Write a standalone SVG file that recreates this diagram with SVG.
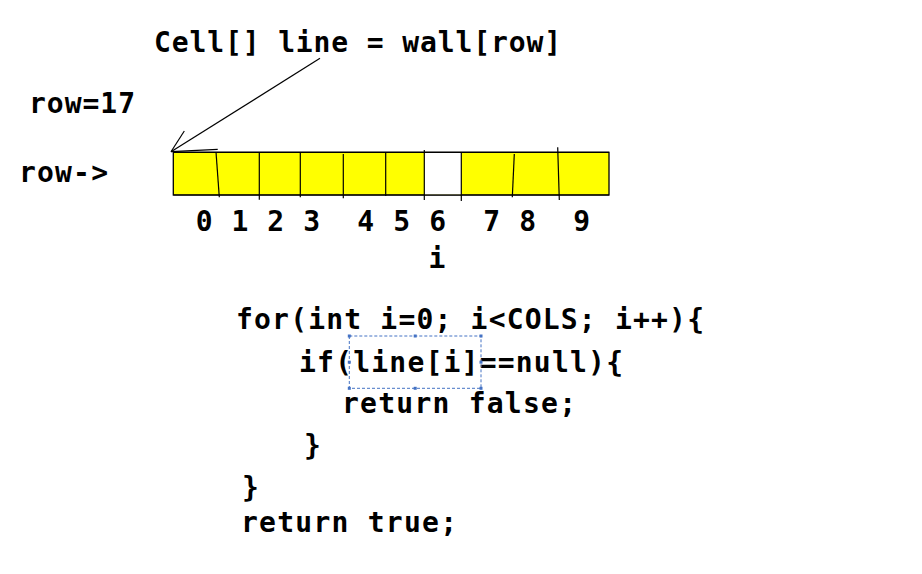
<svg xmlns="http://www.w3.org/2000/svg" width="922" height="574" viewBox="0 0 922 574">
<style>
.t{font-family:"DejaVu Sans Mono","Liberation Mono",monospace;font-weight:bold;font-size:28px;fill:#000}
.l{stroke:#000;stroke-width:1.2;fill:none}
.h{fill:#4472C4}
</style>
<rect width="922" height="574" fill="#fff"/>
<g id="title"><text class="t" x="154" y="52" textLength="407" lengthAdjust="spacing">Cell[] line = wall[row]</text></g>
<g id="rowval"><text class="t" x="29" y="113" textLength="106" lengthAdjust="spacing">row=17</text></g>
<g id="rowlabel"><text class="t" x="19" y="182" textLength="89" lengthAdjust="spacing">row-&gt;</text></g>
<g id="array">
<rect x="173.3" y="152.3" width="435.7" height="42.7" fill="#FFFF00" stroke="#000" stroke-width="1.3"/>
<rect x="424.3" y="152.8" width="37" height="41.7" fill="#fff"/>
<line class="l" x1="173.3" y1="152.3" x2="609" y2="152.3"/>
<line class="l" x1="173.3" y1="195" x2="609" y2="195"/>
<line class="l" x1="216" y1="152" x2="219.3" y2="197.3"/>
<line class="l" x1="259.3" y1="152" x2="259.3" y2="199.7"/>
<line class="l" x1="300.3" y1="152" x2="300.3" y2="197.3"/>
<line class="l" x1="343.3" y1="154" x2="343.3" y2="198.3"/>
<line class="l" x1="385.7" y1="152" x2="385.7" y2="196"/>
<line class="l" x1="424.3" y1="150" x2="424.3" y2="200"/>
<line class="l" x1="461.3" y1="152" x2="461.3" y2="201"/>
<line class="l" x1="514.3" y1="154" x2="512.3" y2="197.3"/>
<line class="l" x1="557.7" y1="147.3" x2="559.3" y2="200"/>
</g>
<g id="indices">
<text class="t" x="204.3" y="231" text-anchor="middle">0</text>
<text class="t" x="240" y="231" text-anchor="middle">1</text>
<text class="t" x="275.7" y="231" text-anchor="middle">2</text>
<text class="t" x="311.7" y="231" text-anchor="middle">3</text>
<text class="t" x="365.7" y="231" text-anchor="middle">4</text>
<text class="t" x="401.7" y="231" text-anchor="middle">5</text>
<text class="t" x="437.7" y="231" text-anchor="middle">6</text>
<text class="t" x="491.7" y="231" text-anchor="middle">7</text>
<text class="t" x="527.7" y="231" text-anchor="middle">8</text>
<text class="t" x="581.7" y="231" text-anchor="middle">9</text>
<text class="t" x="437" y="268" text-anchor="middle">i</text>
</g>
<g id="connectors">
<line class="l" x1="320" y1="58.3" x2="171" y2="151.7"/>
<line class="l" x1="184.3" y1="131" x2="171" y2="151.7"/>
<line class="l" x1="171" y1="151.7" x2="217.7" y2="149.3"/>
</g>
<g id="code">
<text class="t" x="236" y="329" textLength="468" lengthAdjust="spacing">for(int i=0; i&lt;COLS; i++){</text>
<text class="t" x="299" y="372" textLength="324" lengthAdjust="spacing">if(line[i]==null){</text>
<text class="t" x="342" y="413" textLength="234" lengthAdjust="spacing">return false;</text>
<text class="t" x="304" y="455">}</text>
<text class="t" x="242" y="497">}</text>
<text class="t" x="241" y="532" textLength="216" lengthAdjust="spacing">return true;</text>
</g>
<g id="selection">
<rect x="349.3" y="336" width="131.7" height="52.3" fill="none" stroke="#4472C4" stroke-width="1" stroke-dasharray="3,2"/>
<rect class="h" x="347.8" y="334.5" width="3" height="3"/>
<rect class="h" x="413.7" y="334.5" width="3" height="3"/>
<rect class="h" x="479.5" y="334.5" width="3" height="3"/>
<rect class="h" x="347.8" y="360.7" width="3" height="3"/>
<rect class="h" x="479.5" y="360.7" width="3" height="3"/>
<rect class="h" x="347.8" y="386.8" width="3" height="3"/>
<rect class="h" x="413.7" y="386.8" width="3" height="3"/>
<rect class="h" x="479.5" y="386.8" width="3" height="3"/>
</g>
</svg>
